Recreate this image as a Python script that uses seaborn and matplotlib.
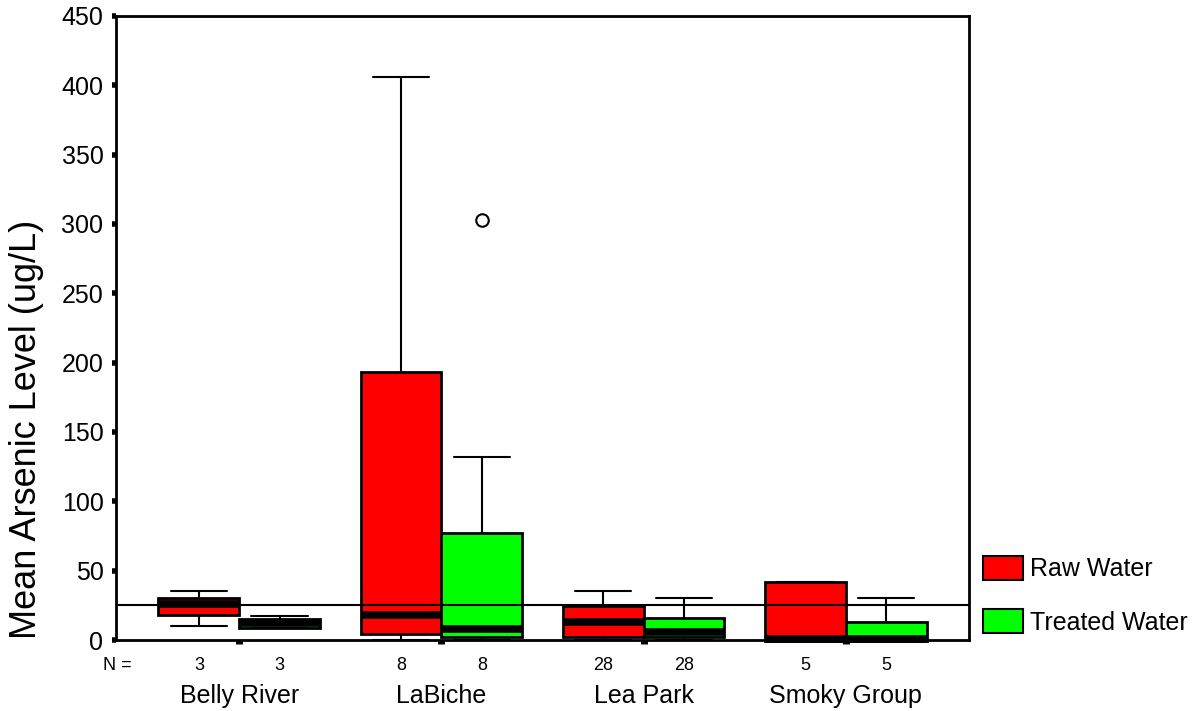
import matplotlib
matplotlib.use("Agg")
import matplotlib.pyplot as plt
import matplotlib.transforms as mtransforms
from matplotlib.patches import Patch
import seaborn as sns

# box summaries (ug/L)
groups = ["Belly River", "LaBiche", "Lea Park", "Smoky Group"]
series = ["Raw Water", "Treated Water"]
colors = ["#ff0000", "#00ff00"]
n_counts = [3, 8, 28, 5]

raw_whislo = [10, 0, 0, 0]
raw_q1 = [18, 4.3, 2.4, -0.5]
raw_med = [26, 18.3, 13.2, 1]
raw_q3 = [30.5, 193, 24.8, 41.7]
raw_whishi = [35, 406, 35, 41.7]
raw_fliers = [[], [], [], []]

trt_whislo = [8.4, 0, 0, 0]
trt_q1 = [8.4, 2, 2.4, -0.5]
trt_med = [12, 8, 6, 1]
trt_q3 = [15, 77.5, 16, 13]
trt_whishi = [17.3, 132, 30, 30]
trt_fliers = [[], [303], [], []]

guideline = 25

sns.set_theme(style="white")
plt.rcParams["font.family"] = ["Liberation Sans", "DejaVu Sans"]
plt.rcParams["text.color"] = "black"
plt.rcParams["xtick.color"] = "black"
plt.rcParams["ytick.color"] = "black"
plt.rcParams["axes.labelcolor"] = "black"

fig = plt.figure(figsize=(12.02, 7.11), dpi=100)
ax = fig.add_axes([116 / 1202, 1 - 640 / 711, 853 / 1202, 624 / 711])


def make_stats(wlo, q1, med, q3, whi, fl):
    out = []
    for i in range(len(groups)):
        out.append(dict(whislo=wlo[i], q1=q1[i], med=med[i], q3=q3[i],
                        whishi=whi[i], fliers=fl[i]))
    return out


all_stats = [
    make_stats(raw_whislo, raw_q1, raw_med, raw_q3, raw_whishi, raw_fliers),
    make_stats(trt_whislo, trt_q1, trt_med, trt_q3, trt_whishi, trt_fliers),
]
offsets = [-0.2, 0.2]

for k in range(2):
    pos = [i + offsets[k] for i in range(len(groups))]
    parts = ax.bxp(all_stats[k], positions=pos, widths=0.4, capwidths=0.28,
                   patch_artist=True, showfliers=True,
                   boxprops=dict(facecolor=colors[k], edgecolor="black", linewidth=2),
                   medianprops=dict(color="black", linewidth=5.5, solid_capstyle="butt"),
                   whiskerprops=dict(color="black", linewidth=1.5),
                   capprops=dict(color="black", linewidth=1.5),
                   flierprops=dict(marker="o", markerfacecolor="none",
                                   markeredgecolor="black", markersize=9,
                                   markeredgewidth=1.5))
    for a in parts["boxes"] + parts["medians"]:
        a.set_clip_on(False)

ax.axhline(guideline, color="black", linewidth=1.5, zorder=5)

ax.set_xlim(-0.61, 3.61)
ax.set_ylim(0, 450)
ax.set_yticks(range(0, 451, 50))
ax.tick_params(axis="y", direction="out", length=3, width=4, pad=6,
               labelsize=18, left=True, color="black")
ax.set_xticks(range(len(groups)))
ax.set_xticklabels([])
ax.tick_params(axis="x", direction="out", length=3, width=5, bottom=True,
               color="black")
for s in ax.spines.values():
    s.set_color("black")
    s.set_linewidth(2)

trans = mtransforms.blended_transform_factory(ax.transData, ax.transAxes)
ax.text(-0.675, -0.048, "N =", transform=trans, fontsize=13,
        ha="left", va="baseline")
for i, g in enumerate(groups):
    for k in range(2):
        ax.text(i + offsets[k], -0.048, str(n_counts[i]), transform=trans,
                fontsize=13, ha="center", va="baseline")
    ax.text(i, -0.101, g, transform=trans, fontsize=18, ha="center",
            va="baseline")

fig.text(27 / 1202, 1 - 429 / 711, "Mean Arsenic Level (ug/L)", fontsize=26,
         rotation=90, ha="center", va="center")

handles = [Patch(facecolor=colors[k], edgecolor="black", linewidth=1.5)
           for k in range(2)]
fig.legend(handles, series, loc="upper left",
           bbox_to_anchor=(983 / 1202, 1 - 556 / 711), frameon=False,
           fontsize=18, handlelength=1.6, handleheight=1.1,
           handletextpad=0.3, labelspacing=1.1, borderpad=0, borderaxespad=0)

fig.savefig("out.png", dpi=100)
